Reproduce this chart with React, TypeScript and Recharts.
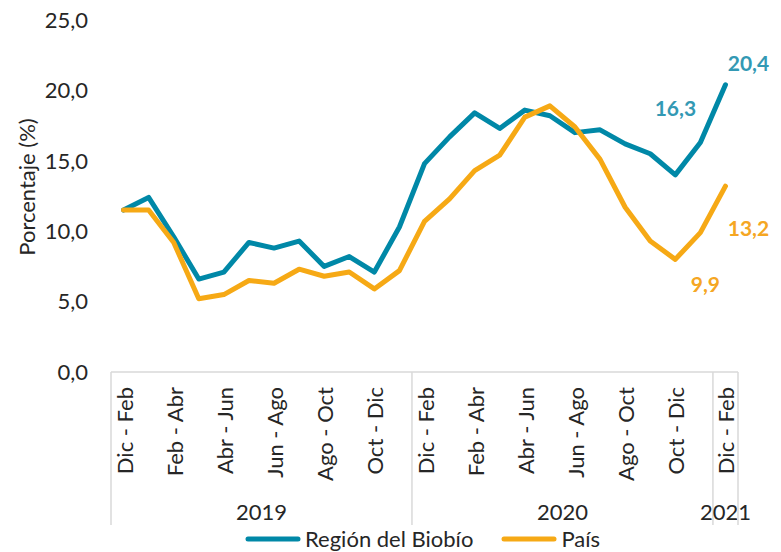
import React from "react";
import { LineChart, Line, XAxis, YAxis, Legend, LabelList } from "recharts";

const periods = [
  "Dic - Feb", "Ene - Mar", "Feb - Abr", "Mar - May", "Abr - Jun", "May - Jul",
  "Jun - Ago", "Jul - Sep", "Ago - Oct", "Sep - Nov", "Oct - Dic", "Nov - Ene",
  "Dic - Feb", "Ene - Mar", "Feb - Abr", "Mar - May", "Abr - Jun", "May - Jul",
  "Jun - Ago", "Jul - Sep", "Ago - Oct", "Sep - Nov", "Oct - Dic", "Nov - Ene",
  "Dic - Feb",
];
const years = [
  "2019", "2019", "2019", "2019", "2019", "2019", "2019", "2019", "2019", "2019", "2019", "2019",
  "2020", "2020", "2020", "2020", "2020", "2020", "2020", "2020", "2020", "2020", "2020", "2020",
  "2021",
];
const biobio = [11.5, 12.4, 9.6, 6.6, 7.1, 9.2, 8.8, 9.3, 7.5, 8.2, 7.1, 10.3, 14.8, 16.7, 18.4, 17.3, 18.6, 18.2, 17.0, 17.2, 16.2, 15.5, 14.0, 16.3, 20.4];
const pais = [11.5, 11.5, 9.2, 5.2, 5.5, 6.5, 6.3, 7.3, 6.8, 7.1, 5.9, 7.2, 10.7, 12.3, 14.3, 15.4, 18.1, 18.9, 17.4, 15.1, 11.7, 9.3, 8.0, 9.9, 13.2];
const yTicks = [0, 5, 10, 15, 20, 25];
const labeledBiobio = [23, 24];
const labeledPais = [23, 24];

const data = periods.map((p, i) => ({
  key: `${years[i]} ${p} ${i}`,
  period: p,
  year: years[i],
  biobio: biobio[i],
  pais: pais[i],
}));

const W = 781;
const H = 552;
const FONT = "Lato, 'Open Sans', sans-serif";
const BLUE = "#0088A7";
const BLUE_LABEL = "#3399B4";
const ORANGE = "#F6A915";
const ORANGE_LABEL = "#F5A623";
const TEXT = "#262626";
const AXIS = "#D9D9D9";
const PLOT_LEFT = 111;
const PLOT_RIGHT = 738;
const BAND = (PLOT_RIGHT - PLOT_LEFT) / periods.length;

const fmt = (v: number) => v.toFixed(1).replace(".", ",");

const XTick = (props: any) => {
  const { x, y, index } = props;
  const out: React.ReactNode[] = [];
  if (index % 2 === 0) {
    out.push(
      <text
        key="t"
        transform={`translate(${x + 9}, ${y + 15}) rotate(-90)`}
        textAnchor="end"
        fontSize={22}
        fill={TEXT}
        fontFamily={FONT}
      >
        {periods[index]}
      </text>
    );
  }
  const isStart = index === 0 || years[index] !== years[index - 1];
  const isEnd = index === years.length - 1;
  if (isStart) {
    const left = x - BAND / 2;
    let n = 0;
    while (index + n < years.length && years[index + n] === years[index]) n++;
    out.push(<line key="l" x1={left} x2={left} y1={y} y2={y + 153} stroke={AXIS} strokeWidth={1.5} />);
    out.push(
      <text key="y" x={left + (n * BAND) / 2} y={y + 148} textAnchor="middle" fontSize={22} fill={TEXT} fontFamily={FONT}>
        {years[index]}
      </text>
    );
  }
  if (isEnd) {
    const right = x + BAND / 2;
    out.push(<line key="r" x1={right} x2={right} y1={y} y2={y + 153} stroke={AXIS} strokeWidth={1.5} />);
  }
  return <g>{out}</g>;
};

const makeLabel = (indices: number[], color: string, offsets: Record<number, [number, number]>) => (props: any) => {
  const { x, y, index, value } = props;
  if (!indices.includes(index)) return null;
  const [dx, dy] = offsets[index];
  return (
    <text x={x + dx} y={y + dy} textAnchor="middle" dominantBaseline="central" fontSize={21} fontWeight={700} fill={color} fontFamily={FONT}>
      {fmt(value)}
    </text>
  );
};

const LegendContent = () => (
  <div style={{ display: "flex", alignItems: "center", paddingLeft: 245, fontFamily: FONT, fontSize: 22, color: TEXT, height: 26, lineHeight: "26px" }}>
    <svg width={56} height={8}>
      <line x1={3} x2={53} y1={4} y2={4} stroke={BLUE} strokeWidth={5} strokeLinecap="round" />
    </svg>
    <span style={{ marginLeft: 4 }}>Región del Biobío</span>
    <svg width={56} height={8} style={{ marginLeft: 28 }}>
      <line x1={3} x2={53} y1={4} y2={4} stroke={ORANGE} strokeWidth={5} strokeLinecap="round" />
    </svg>
    <span style={{ marginLeft: 4 }}>País</span>
  </div>
);

export default function App() {
  return (
    <div style={{ position: "absolute", left: 0, top: 0, width: W, height: H, fontFamily: FONT, background: "#fff" }}>
      <LineChart width={W} height={H} data={data} margin={{ top: 20, right: W - PLOT_RIGHT, left: 0, bottom: 0 }}>
        <XAxis
          dataKey="key"
          scale="band"
          interval={0}
          tick={<XTick />}
          tickLine={false}
          tickSize={0}
          tickMargin={0}
          height={154}
          axisLine={{ stroke: AXIS, strokeWidth: 1.5 }}
        />
        <YAxis
          width={PLOT_LEFT}
          domain={[0, 25]}
          ticks={yTicks}
          tickFormatter={fmt}
          axisLine={false}
          tickLine={false}
          tickSize={0}
          tickMargin={23}
          tick={{ fontSize: 22, fill: TEXT, fontFamily: FONT }}
          label={(p: any) => {
            const vb = p.viewBox;
            const cx = 26;
            const cy = vb.y + vb.height / 2 - 9;
            return (
              <text transform={`translate(${cx}, ${cy}) rotate(-90)`} textAnchor="middle" dominantBaseline="central" fontSize={22} fill={TEXT} fontFamily={FONT}>
                Porcentaje (%)
              </text>
            );
          }}
        />
        <Legend verticalAlign="bottom" height={26} wrapperStyle={{ left: 0, width: W }} content={<LegendContent />} />
        <Line dataKey="biobio" name="Región del Biobío" stroke={BLUE} strokeWidth={5} dot={false} isAnimationActive={false} strokeLinejoin="round" strokeLinecap="round">
          <LabelList dataKey="biobio" content={makeLabel(labeledBiobio, BLUE_LABEL, { 23: [-25, -35], 24: [23, -22] })} />
        </Line>
        <Line dataKey="pais" name="País" stroke={ORANGE} strokeWidth={5} dot={false} isAnimationActive={false} strokeLinejoin="round" strokeLinecap="round">
          <LabelList dataKey="pais" content={makeLabel(labeledPais, ORANGE_LABEL, { 23: [5, 51], 24: [23, 41] })} />
        </Line>
      </LineChart>
    </div>
  );
}
